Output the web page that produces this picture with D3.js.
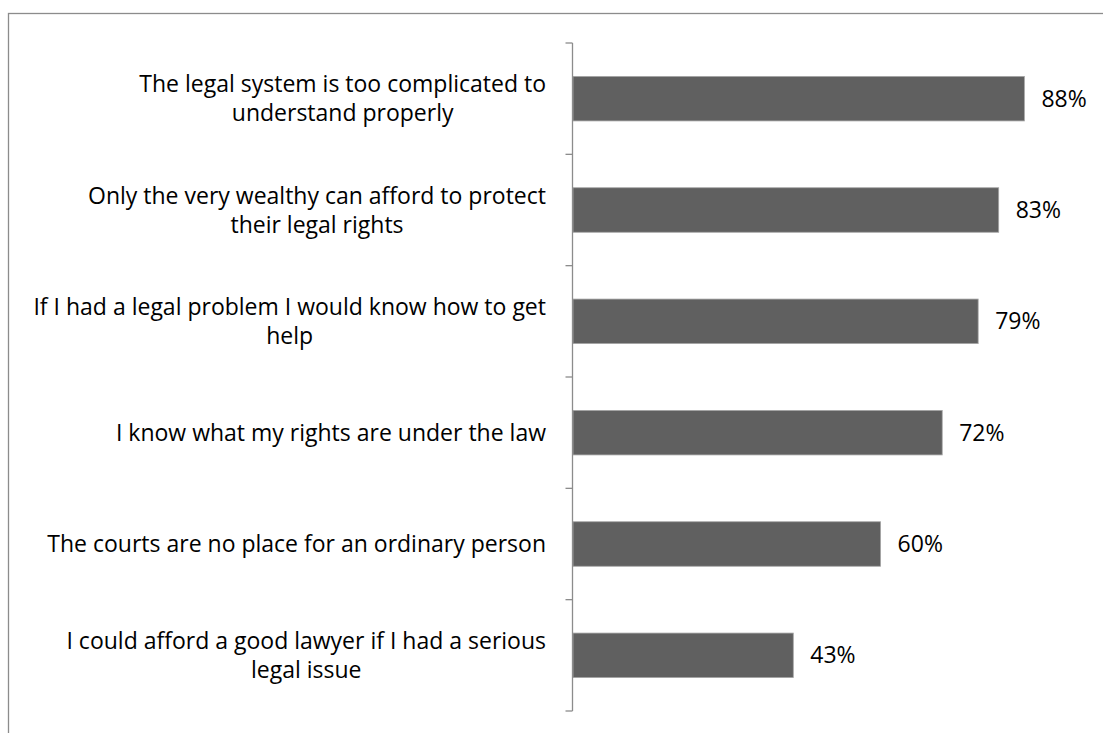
<!DOCTYPE html>
<html>
<head>
<meta charset="utf-8">
<script src="https://cdn.jsdelivr.net/npm/d3@7"></script>
<style>
  html, body { margin: 0; padding: 0; background: #fff; }
  svg { display: block; font-family: "Open Sans", "Noto Sans", sans-serif; }
</style>
</head>
<body>
<svg id="chart" width="1103" height="733"></svg>
<script>
// category labels, already broken the way the original wraps them
const categories = [
  ['The legal system is too complicated to', 'understand properly'],
  ['Only the very wealthy can afford to protect', 'their legal rights'],
  ['If I had a legal problem I would know how to get', 'help'],
  ['I know what my rights are under the law'],
  ['The courts are no place for an ordinary person'],
  ['I could afford a good lawyer if I had a serious', 'legal issue']
];
const values = [88, 83, 79, 72, 60, 43];

const svg = d3.select('#chart');
const fontSize = 23;
const lineH = 29;

// chart frame (only top + left visible in the original)
svg.append('rect')
  .attr('x', 8.5).attr('y', 13.5)
  .attr('width', 1200).attr('height', 800)
  .attr('fill', 'none')
  .attr('stroke', '#8c8c8c')
  .attr('stroke-width', 1.3);

const axisX = 572.5;
const y = d3.scaleBand()
  .domain(d3.range(categories.length))
  .range([43, 711])
  .paddingInner(0.6)
  .paddingOuter(0.3);

const x = d3.scaleLinear().domain([0, 100]).range([axisX, axisX + 513.5]);

// bars
svg.append('g')
  .selectAll('rect')
  .data(values)
  .join('rect')
  .attr('x', x(0) + 0.5)
  .attr('y', (d, i) => y(i))
  .attr('width', d => x(d) - x(0) - 0.5)
  .attr('height', y.bandwidth())
  .attr('fill', '#606060')
  .attr('stroke', '#a6a6a6')
  .attr('stroke-width', 0.8);

// value labels
svg.append('g')
  .selectAll('text')
  .data(values)
  .join('text')
  .attr('x', d => x(d) + 17)
  .attr('y', (d, i) => y(i) + y.bandwidth() / 2)
  .attr('dy', '0.35em')
  .attr('font-size', fontSize)
  .attr('fill', '#000')
  .text(d => d + '%');

// category axis: vertical line with ticks between bands
const tickYs = d3.range(categories.length + 1).map(i => 43 + i * (668 / categories.length));
const axis = svg.append('g').attr('stroke', '#8c8c8c').attr('stroke-width', 1.3);
axis.append('line')
  .attr('x1', axisX).attr('x2', axisX)
  .attr('y1', tickYs[0]).attr('y2', tickYs[tickYs.length - 1]);
axis.selectAll('line.tick')
  .data(tickYs)
  .join('line')
  .attr('class', 'tick')
  .attr('x1', axisX - 7).attr('x2', axisX)
  .attr('y1', d => d).attr('y2', d => d);

// category labels: lines centred on each other, block right-aligned to the axis
const labelRight = 546;
categories.forEach((lines, i) => {
  const cy = y(i) + y.bandwidth() / 2;
  const g = svg.append('g');
  const texts = lines.map((ln, j) => g.append('text')
    .attr('font-size', fontSize)
    .attr('fill', '#000')
    .attr('text-anchor', 'middle')
    .attr('y', cy + (j - (lines.length - 1) / 2) * lineH)
    .attr('dy', '0.35em')
    .text(ln));
  const maxW = d3.max(texts, t => t.node().getComputedTextLength());
  texts.forEach(t => t.attr('x', labelRight - maxW / 2));
});
</script>
</body>
</html>
